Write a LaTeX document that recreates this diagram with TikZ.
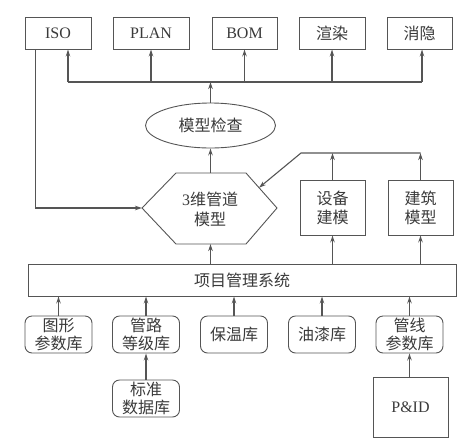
\documentclass[tikz,border=0pt]{standalone}
\usepackage{fontspec}
\setmainfont{Liberation Serif}
\newfontfamily\cjk{Noto Sans CJK SC}
\usetikzlibrary{shapes.geometric,arrows.meta,calc}
\definecolor{lc}{HTML}{555555}
\definecolor{tc}{HTML}{3A3A3A}
\begin{document}
\begin{tikzpicture}[x=1pt,y=-1pt,
  base/.style={draw=lc, line width=0.9pt, text=tc, inner sep=0pt, align=center,
    font=\fontsize{16}{19}\selectfont},
  topbox/.style={base, minimum height=32pt},
  midbox/.style={base, minimum width=65pt, minimum height=55pt},
  libbox/.style={base, rounded corners=7pt, minimum width=67pt, minimum height=37pt,
    font=\fontsize{16}{18}\selectfont},
  ln/.style={draw=lc, line width=1.1pt},
  arr/.style={ln, -{Stealth[length=7pt,width=4.5pt]}}]
\useasboundingbox (0,0) rectangle (471,445);

% top output boxes
\node[topbox, minimum width=66pt] (iso) at (58,33) {ISO};
\node[topbox, minimum width=76pt] (plan) at (151,33) {PLAN};
\node[topbox, minimum width=65pt] (bom) at (244.5,33) {BOM};
\node[topbox, minimum width=66pt] (xr) at (332,33) {\cjk 渲染};
\node[topbox, minimum width=65pt] (xy) at (419.5,33) {\cjk 消隐};

% model check
\node[base, ellipse, minimum width=130pt, minimum height=45pt] (chk) at (210.5,125.5) {\cjk 模型检查};

% hexagon
\coordinate (hexL) at (142,208);
\coordinate (hexTL) at (176,173);
\coordinate (hexTR) at (246,173);
\coordinate (hexR) at (277,208);
\coordinate (hexBR) at (246,244);
\coordinate (hexBL) at (176,244);
\coordinate (hexT) at (210.5,173);
\coordinate (hexB) at (210.5,244);
\draw[draw=lc, line width=0.9pt] (hexL) -- (hexTL) -- (hexTR) -- (hexR) -- (hexBR) -- (hexBL) -- cycle;
\node[text=tc, align=center, font=\fontsize{16}{20}\selectfont] (hex) at (210,209) {3{\cjk 维管道}\\{\cjk 模型}};
\coordinate (hexE) at ($(hexTR)!0.42!(hexR)$);

% equipment / building
\node[midbox] (sb) at (332.5,207.5) {\cjk 设备\\\cjk 建模};
\node[midbox] (jz) at (420.5,207.5) {\cjk 建筑\\\cjk 模型};

% project management system
\node[base, minimum width=428pt, minimum height=32pt] (sys) at (242,280) {\cjk 项目管理系统};

% libraries
\node[libbox] (tx) at (58.5,334.5) {\cjk 图形\\\cjk 参数库};
\node[libbox] (gl) at (146,334.5) {\cjk 管路\\\cjk 等级库};
\node[libbox] (bw) at (234,334.5) {\cjk 保温库};
\node[libbox] (yq) at (322,334.5) {\cjk 油漆库};
\node[libbox] (gx) at (409.5,334.5) {\cjk 管线\\\cjk 参数库};
\node[libbox] (bz) at (146,398.5) {\cjk 标准\\\cjk 数据库};
\node[base, minimum width=75pt, minimum height=60pt] (pid) at (410.5,407) {P\&ID};

% bus to outputs
\coordinate (busL) at (68,82);
\coordinate (busR) at (422,82);
\draw[ln] (busL) -- (busR);
\draw[arr] (busL) -- (busL |- iso.south);
\draw[arr] (plan.south |- busL) -- (plan.south);
\draw[arr] (bom.south |- busL) -- (bom.south);
\draw[arr] (xr.south |- busL) -- (xr.south);
\draw[arr] (busR) -- (busR |- xy.south);
\draw[arr] (chk.north) -- (chk.north |- busL);

% ISO feedback to hexagon
\coordinate (isoOut) at ($(iso.south west)+(11,0)$);
\draw[arr] (isoOut) |- (hexL);

% hexagon to check
\draw[arr] (hexT) -- (chk.south);
\draw[arr] (sys.north -| hexB) -- (hexB);

% equipment/building to hexagon
\coordinate (jn) at (301,153);
\draw[arr] (sb.north) -- (sb.north |- jn);
\draw[arr] (jz.north) -- (jz.north |- jn);
\draw[arr] (jz.north |- jn) -- (jn) -- (hexE);
\draw[arr] (sys.north -| sb) -- (sb.south);
\draw[arr] (sys.north -| jz) -- (jz.south);

% libraries to system
\draw[arr] (tx.north) -- (tx.north |- sys.south);
\draw[arr] (gl.north) -- (gl.north |- sys.south);
\draw[arr] (bw.north) -- (bw.north |- sys.south);
\draw[arr] (yq.north) -- (yq.north |- sys.south);
\draw[arr] (gx.north) -- (gx.north |- sys.south);
\draw[arr] (bz.north) -- (gl.south);
\draw[arr] (pid.north -| gx) -- (gx.south);
\end{tikzpicture}
\end{document}
